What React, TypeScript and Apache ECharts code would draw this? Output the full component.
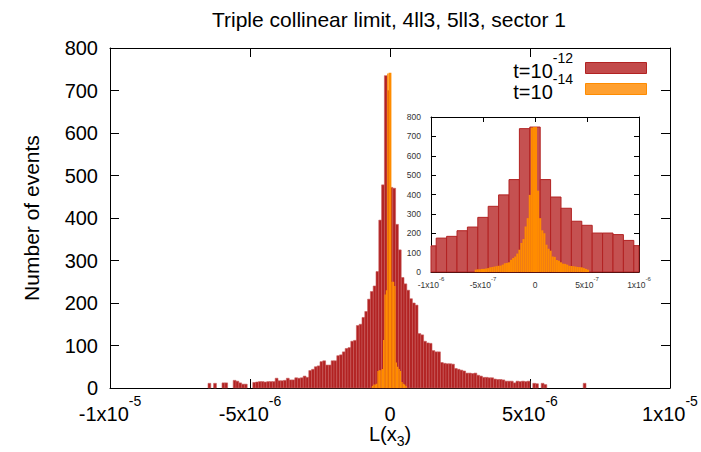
import React, { useEffect, useRef } from 'react';
import * as echarts from 'echarts';

const FONT = '"Liberation Sans", Arial, Helvetica, sans-serif';

const chartTitle = 'Triple collinear limit, 4ll3, 5ll3, sector 1';
const yAxisName = 'Number of events';
const xAxisNameParts = ['L(x', '3', ')'];

const legendBase = ['t=10', 't=10'];
const legendExp = ['-12', '-14'];

const mainYTicks = [0, 100, 200, 300, 400, 500, 600, 700, 800];
const mainXTickBase = ['-1x10', '-5x10', '0', '5x10', '1x10'];
const mainXTickExp = ['-5', '-6', '', '-6', '-5'];
const insetXTickBase = ['-1x10', '-5x10', '0', '5x10', '1x10'];
const insetXTickExp = ['-6', '-7', '', '-7', '-6'];

// main plot, t=10^-12 : bins of 1e-7, first bin starts at -65e-7
const mainRedBinWidth = 1e-7;
const mainRedFirstBin = -65;
const mainRedCounts = [
  11, 0, 11, 0, 0, 12, 12, 0, 0, 18,
  16, 12, 9, 9, 0, 0, 13, 14, 15, 15,
  14, 15, 15, 15, 23, 17, 17, 18, 23, 19,
  19, 24, 23, 24, 28, 25, 41, 44, 50, 52,
  62, 64, 54, 54, 64, 64, 76, 78, 85, 93,
  95, 110, 112, 147, 150, 166, 180, 209, 227, 240,
  274, 395, 478, 735, 700, 472, 470, 385, 325, 260,
  245, 230, 210, 200, 195, 128, 125, 110, 106, 105,
  88, 85, 85, 60, 58, 57, 57, 56, 46, 44,
  42, 40, 35, 35, 34, 35, 30, 28, 25, 25,
  24, 24, 21, 20, 20, 19, 16, 16, 16, 12,
  16, 15, 16, 15, 16, 0, 11, 10, 0, 11,
  8, 0, 0, 0, 0, 0, 0, 0, 0, 0,
  0, 0, 0, 0, 11,
];

// main plot, t=10^-14 : bins of 5e-8, first bin starts at -13 * 5e-8
const mainOrangeBinWidth = 5e-8;
const mainOrangeFirstBin = -13;
const mainOrangeCounts = [
  5, 8, 8, 10, 40, 42, 42, 45, 113, 220, 230, 740, 742,
  742, 250, 250, 240, 60, 50, 45, 40, 14, 10, 8, 5,
];

// inset, t=10^-12 : bins of 1e-7 centred on multiples of 1e-7
const insetRedBinWidth = 1e-7;
const insetRedFirstBin = -10.5;
const insetRedCounts = [
  135, 175, 184, 213, 232, 282, 339, 398, 477, 740, 748,
  477, 387, 329, 262, 241, 201, 201, 193, 163, 136,
];

// inset, t=10^-14 : bins of 2e-8, first bin starts at -29 * 2e-8
const insetOrangeBinWidth = 2e-8;
const insetOrangeFirstBin = -29;
const insetOrangeCounts = [
  12, 14, 14, 16, 16, 18, 20, 24, 26, 28,
  30, 32, 33, 38, 45, 47, 50, 63, 72, 80,
  95, 115, 150, 170, 235, 278, 398, 745, 748, 748,
  420, 278, 215, 200, 141, 120, 110, 80, 78, 62,
  58, 50, 43, 42, 38, 32, 31, 30, 28, 26,
  25, 24, 20, 16, 12,
];

const RED_STROKE = '#b22222';
const RED_FILL_MAIN = '#b22222';
const RED_SEP_MAIN = '#c85a5a';
const RED_FILL_INSET = '#c55151';
const ORANGE = '#ff8c00';

function toBins(first: number, width: number, counts: number[]) {
  return counts.map((c, i) => [(first + i) * width, c]);
}

function binRenderer(width: number, fill: string, stroke: string | null, lw: number) {
  return (params: any, api: any) => {
    const x0 = api.value(0);
    const v = api.value(1);
    if (!(v > 0)) return null;
    const a = api.coord([x0, 0]);
    const b = api.coord([x0 + width, v]);
    const cs = params.coordSys;
    const r = echarts.graphic.clipRectByRect(
      { x: a[0], y: b[1], width: b[0] - a[0], height: a[1] - b[1] },
      { x: cs.x, y: cs.y, width: cs.width, height: cs.height }
    );
    if (!r) return null;
    const style: any = { fill };
    if (stroke) {
      style.stroke = stroke;
      style.lineWidth = lw;
    } else {
      style.lineWidth = 0;
    }
    return { type: 'rect', shape: r, style };
  };
}

const lineStyle = { color: '#000', width: 1 };

function supFormatter(min: number, step: number, base: string[], exp: string[]) {
  return (v: number) => {
    const i = Math.round((v - min) / step);
    const b = base[i] ?? '';
    const e = exp[i] ?? '';
    return e ? `{b|${b}}{s|${e}}` : `{b|${b}}`;
  };
}

export default function App() {
  const ref = useRef<HTMLDivElement>(null);
  useEffect(() => {
    document.body.style.margin = '0';
    if (!ref.current) return;
    const chart = echarts.init(ref.current, undefined, { renderer: 'svg' });

    const mainRich = {
      b: { fontSize: 20, fontFamily: FONT, color: '#000', lineHeight: 30, verticalAlign: 'bottom' },
      s: { fontSize: 14, fontFamily: FONT, color: '#000', lineHeight: 10, verticalAlign: 'top' },
    };
    const insetRich = {
      b: { fontSize: 8.5, fontFamily: FONT, color: '#333', lineHeight: 13, verticalAlign: 'bottom' },
      s: { fontSize: 6, fontFamily: FONT, color: '#333', lineHeight: 5, verticalAlign: 'top' },
    };

    const mainX = { min: -1e-5, max: 1e-5, interval: 5e-6 };
    const insetX = { min: -1e-6, max: 1e-6, interval: 5e-7 };

    const legendItems = legendBase.map((b, i) => i);
    const legendTextY = [66, 87];
    const legendBoxY = [63, 84];
    const legendFill = ['#c24a4a', '#ffa030'];
    const legendStroke = [RED_STROKE, ORANGE];

    const graphic: any[] = [
      {
        type: 'text',
        x: 389,
        y: 19,
        style: {
          text: chartTitle,
          fontSize: 21,
          fontFamily: FONT,
          fill: '#000',
          align: 'center',
          textAlign: 'center',
          verticalAlign: 'middle',
          textVerticalAlign: 'middle',
        },
      },
      {
        type: 'text',
        x: 390,
        y: 424,
        style: {
          text: `{b|${xAxisNameParts[0]}}{u|${xAxisNameParts[1]}}{b|${xAxisNameParts[2]}}`,
          rich: {
            b: { fontSize: 20, fontFamily: FONT, fill: '#000', color: '#000', lineHeight: 24, verticalAlign: 'top' },
            u: { fontSize: 14, fontFamily: FONT, fill: '#000', color: '#000', lineHeight: 8, verticalAlign: 'bottom' },
          },
          align: 'center',
          textAlign: 'center',
          verticalAlign: 'top',
          textVerticalAlign: 'top',
        },
      },
    ];
    legendItems.forEach((i) => {
      graphic.push({
        type: 'text',
        x: 573,
        y: legendTextY[i],
        style: {
          text: `{b|${legendBase[i]}}{s|${legendExp[i]}}`,
          rich: {
            b: { fontSize: 20, fontFamily: FONT, fill: '#000', color: '#000', lineHeight: 30, verticalAlign: 'bottom' },
            s: { fontSize: 14, fontFamily: FONT, fill: '#000', color: '#000', lineHeight: 10, verticalAlign: 'top' },
          },
          align: 'right',
          textAlign: 'right',
          verticalAlign: 'middle',
          textVerticalAlign: 'middle',
        },
      });
      graphic.push({
        type: 'rect',
        shape: { x: 585.5, y: legendBoxY[i] - 0.5, width: 61, height: 11 },
        style: { fill: legendFill[i], stroke: legendStroke[i], lineWidth: 1 },
      });
    });

    const option: any = {
      animation: false,
      backgroundColor: '#fff',
      grid: [
        { left: 110, top: 48, width: 560, height: 340 },
        { left: 431, top: 117, width: 208, height: 155 },
      ],
      xAxis: [
        {
          type: 'value', gridIndex: 0, position: 'bottom', ...mainX,
          axisLine: { show: true, onZero: false, lineStyle },
          axisTick: { show: true, inside: true, length: 9, lineStyle },
          splitLine: { show: false },
          axisLabel: {
            margin: 6,
            formatter: supFormatter(mainX.min, mainX.interval, mainXTickBase, mainXTickExp),
            rich: mainRich,
          },
        },
        {
          type: 'value', gridIndex: 0, position: 'top', ...mainX,
          axisLine: { show: true, onZero: false, lineStyle },
          axisTick: { show: true, inside: true, length: 9, lineStyle },
          splitLine: { show: false },
          axisLabel: { show: false },
        },
        {
          type: 'value', gridIndex: 1, position: 'bottom', ...insetX,
          axisLine: { show: true, onZero: false, lineStyle },
          axisTick: { show: true, inside: true, length: 5, lineStyle },
          splitLine: { show: false },
          axisLabel: {
            margin: 4,
            formatter: supFormatter(insetX.min, insetX.interval, insetXTickBase, insetXTickExp),
            rich: insetRich,
          },
        },
        {
          type: 'value', gridIndex: 1, position: 'top', ...insetX,
          axisLine: { show: true, onZero: false, lineStyle },
          axisTick: { show: true, inside: true, length: 5, lineStyle },
          splitLine: { show: false },
          axisLabel: { show: false },
        },
      ],
      yAxis: [
        {
          type: 'value', gridIndex: 0, position: 'left',
          min: mainYTicks[0], max: mainYTicks[mainYTicks.length - 1], interval: 100,
          axisLine: { show: true, onZero: false, lineStyle },
          axisTick: { show: true, inside: true, length: 9, lineStyle },
          splitLine: { show: false },
          axisLabel: { margin: 12, fontSize: 20, fontFamily: FONT, color: '#000' },
          name: yAxisName,
          nameLocation: 'middle',
          nameRotate: 90,
          nameGap: 68,
          nameTextStyle: { fontSize: 21, fontFamily: FONT, color: '#000' },
        },
        {
          type: 'value', gridIndex: 0, position: 'right',
          min: 0, max: 800, interval: 100,
          axisLine: { show: true, onZero: false, lineStyle },
          axisTick: { show: true, inside: true, length: 9, lineStyle },
          splitLine: { show: false },
          axisLabel: { show: false },
        },
        {
          type: 'value', gridIndex: 1, position: 'left',
          min: 0, max: 800, interval: 100,
          axisLine: { show: true, onZero: false, lineStyle },
          axisTick: { show: true, inside: true, length: 5, lineStyle },
          splitLine: { show: false },
          axisLabel: { margin: 10, fontSize: 8.5, fontFamily: FONT, color: '#333' },
        },
        {
          type: 'value', gridIndex: 1, position: 'right',
          min: 0, max: 800, interval: 100,
          axisLine: { show: true, onZero: false, lineStyle },
          axisTick: { show: true, inside: true, length: 5, lineStyle },
          splitLine: { show: false },
          axisLabel: { show: false },
        },
      ],
      series: [
        {
          type: 'custom', name: 't=10^-12', xAxisIndex: 0, yAxisIndex: 0, silent: true,
          encode: { x: 0, y: 1 },
          data: toBins(mainRedFirstBin, mainRedBinWidth, mainRedCounts),
          renderItem: binRenderer(mainRedBinWidth, RED_FILL_MAIN, RED_SEP_MAIN, 0.6),
        },
        {
          type: 'custom', name: 't=10^-14', xAxisIndex: 0, yAxisIndex: 0, silent: true,
          encode: { x: 0, y: 1 },
          data: toBins(mainOrangeFirstBin, mainOrangeBinWidth, mainOrangeCounts),
          renderItem: binRenderer(mainOrangeBinWidth, ORANGE, null, 0),
        },
        {
          type: 'custom', name: 'inset t=10^-12', xAxisIndex: 2, yAxisIndex: 2, silent: true,
          encode: { x: 0, y: 1 },
          data: toBins(insetRedFirstBin, insetRedBinWidth, insetRedCounts),
          renderItem: binRenderer(insetRedBinWidth, RED_FILL_INSET, RED_STROKE, 1),
        },
        {
          type: 'custom', name: 'inset t=10^-14', xAxisIndex: 2, yAxisIndex: 2, silent: true,
          encode: { x: 0, y: 1 },
          data: toBins(insetOrangeFirstBin, insetOrangeBinWidth, insetOrangeCounts),
          renderItem: binRenderer(insetOrangeBinWidth, ORANGE, null, 0),
        },
      ],
      graphic,
    };
    chart.setOption(option);
    return () => chart.dispose();
  }, []);
  return <div ref={ref} style={{ width: 701, height: 452 }} />;
}
